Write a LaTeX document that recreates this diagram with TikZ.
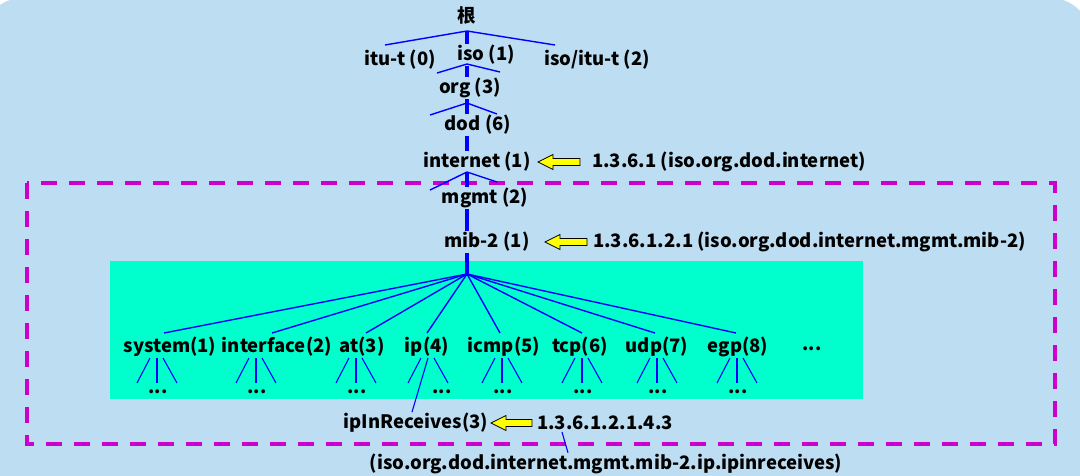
\documentclass[tikz,border=0pt]{standalone}
\usepackage{fontspec}
\setmainfont{Noto Sans CJK SC}
\usetikzlibrary{calc}
\definecolor{bgblue}{HTML}{BDDDF2}
\definecolor{boxcyan}{HTML}{00FFCC}
\definecolor{linkblue}{HTML}{0000FF}
\definecolor{dashmag}{HTML}{CC00CC}
\definecolor{arrowyellow}{HTML}{FFFF00}
\newcommand{\yarrowdraw}[3]{% tip x, y, tail x
  \filldraw[fill=arrowyellow,draw=black,line width=0.8pt,line join=miter]
    (#1,#2) -- ($(#1,#2)+(15,-7.5)$) -- ($(#1,#2)+(15,-3.5)$) -- (#3,#2-3.5)
    -- (#3,#2+3.5) -- ($(#1,#2)+(15,3.5)$) -- ($(#1,#2)+(15,7.5)$) -- cycle;}
\begin{document}
\begin{tikzpicture}[x=1pt,y=-1pt,
  lab/.style={font=\fontsize{18.5}{20}\selectfont\bfseries,inner sep=1pt,text=black},
  oid/.style={lab,anchor=west},
  dotlab/.style={font=\fontsize{18}{20}\selectfont\bfseries,inner sep=0pt},
  spine/.style={draw=linkblue,line width=4pt},
  br/.style={draw=linkblue,line width=1.4pt},
  sub/.style={draw=linkblue,line width=1.1pt},
  dashbox/.style={draw=dashmag,line width=4pt,dash pattern=on 16pt off 12pt}]
\useasboundingbox (0,0) rectangle (1080,475);
\fill[white] (0,0) rectangle (1080,475);
\fill[bgblue,rounded corners=40pt] (-17.5,-2) rectangle (1090.5,560);
% cyan box
\fill[boxcyan] (110,261) rectangle (863,399);
% dashed region
\draw[dashbox] (27,183) rectangle (1055,444);

% upper tree nodes
\node[lab] (root) at (467,16) {根};
\node[lab] (itu) at (400,60) {itu-t (0)};
\node[lab] (iso) at (486,55) {iso (1)};
\node[lab] (isoitu) at (597,60) {iso/itu-t (2)};
\node[lab] (org) at (470,88) {org (3)};
\node[lab] (dod) at (478,125) {dod (6)};
\node[lab] (internet) at (477,162) {internet (1)};
\node[lab] (mgmt) at (485,198) {mgmt (2)};
\node[lab] (mib) at (487,242) {mib-2 (1)};

\coordinate (sx) at (467,0);
\coordinate (b0) at (467,31);
\coordinate (b1) at (467,64);
\coordinate (b2) at (467,103);
\coordinate (b3) at (467,172);
\coordinate (fan) at (467,274);

% spine
\draw[spine] (b0) -- (iso.north -| sx);
\draw[spine] (iso.south -| sx) -- (org.north -| sx);
\draw[spine] (org.south -| sx) -- (dod.north -| sx);
\draw[spine] (dod.south -| sx) -- (internet.north -| sx);
\draw[spine] (internet.south -| sx) -- (mgmt.north -| sx);
\draw[spine] (mgmt.south -| sx) -- (mib.north -| sx);
\draw[spine] (mib.south -| sx) -- (fan);

% branches
\draw[br] (385,45) -- (b0) -- (555,45);
\draw[br] (437,73) -- (b1) -- (500,72);
\draw[br] (430,115) -- (b2) -- (497,114);
\draw[br] (430,190) -- (b3) -- (497,182);

% arrows and oids
\yarrowdraw{538}{162}{580}
\node[oid] (oid1) at (591,162) {1.3.6.1 (iso.org.dod.internet)};
\yarrowdraw{545}{242}{587}
\node[oid] (oid2) at (592,242) {1.3.6.1.2.1 (iso.org.dod.internet.mgmt.mib-2)};

% mib-2 children
\node[lab] (sys) at (170,347) {system(1)};
\node[lab] (ifc) at (277,347) {interface(2)};
\node[lab] (at) at (362,347) {at(3)};
\node[lab] (ip) at (427,347) {ip(4)};
\node[lab] (icmp) at (504,347) {icmp(5)};
\node[lab] (tcp) at (580,347) {tcp(6)};
\node[lab] (udp) at (657,347) {udp(7)};
\node[lab] (egp) at (738,347) {egp(8)};
\node[dotlab] (more) at (812,349) {...};

\draw[br] (fan) -- (164,333);
\draw[br] (fan) -- (272,333);
\draw[br] (fan) -- (366,333);
\draw[br] (fan) -- (427,333);
\draw[br] (fan) -- (500,333);
\draw[br] (fan) -- (582,333);
\draw[br] (fan) -- (655,333);
\draw[br] (fan) -- (736,333);

% sub fans
\foreach \cx in {157,256,356,428,502,582,657,737}{
  \draw[sub] (\cx-7,358) -- (\cx-20,383);
  \draw[sub] (\cx+6,358) -- (\cx+20,383);
}
\foreach \cx in {157,256,356,502,582,657,737}{
  \draw[sub] (\cx,358) -- (\cx,383);
}
\node[dotlab] (d1) at (158,392) {...};
\node[dotlab] (d2) at (257,392) {...};
\node[dotlab] (d3) at (357,392) {...};
\node[dotlab] (d4) at (442,392) {...};
\node[dotlab] (d5) at (503,392) {...};
\node[dotlab] (d6) at (583,392) {...};
\node[dotlab] (d7) at (658,392) {...};
\node[dotlab] (d8) at (738,392) {...};

% ipInReceives
\node[lab] (ipin) at (416,423) {ipInReceives(3)};
\draw[sub] (428,358) -- ([xshift=-4pt]ipin.north);
\yarrowdraw{491}{423}{532}
\node[oid] (oid3) at (536,423) {1.3.6.1.2.1.4.3};
\node[lab] (full) at (606,464) {(iso.org.dod.internet.mgmt.mib-2.ip.ipinreceives)};
\draw[sub] (562,432) -- (full.north -| 568,0);
\end{tikzpicture}
\end{document}
